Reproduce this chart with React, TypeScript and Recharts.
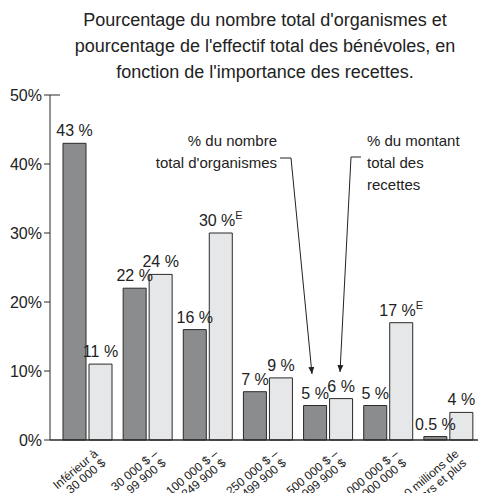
import { BarChart, Bar, XAxis, YAxis, LabelList } from 'recharts';

// Tranches de recettes (two lines each)
const categories = [
  ['Inférieur à', '30 000 $'],
  ['30 000 $ –', '99 900 $'],
  ['100 000 $ –', '249 900 $'],
  ['250 000 $ –', '499 900 $'],
  ['500 000 $ –', '999 900 $'],
  ['1 000 000 $ –', '10 000 000 $'],
  ['10 millions de', 'dollars et plus'],
];
const organismes = [43, 22, 16, 7, 5, 5, 0.5];
const recettes = [11, 24, 30, 9, 6, 17, 4];
const recettesEstimate = [false, false, true, false, false, true, false];
const yTicks = [0, 10, 20, 30, 40, 50];

const titleLines = [
  "Pourcentage du nombre total d'organismes et",
  "pourcentage de l'effectif total des bénévoles, en",
  "fonction de l'importance des recettes.",
];

const FONT = '"Liberation Sans", Arial, sans-serif';
const DARK = '#8b8c8e';
const LIGHT = '#e6e7e8';
const EDGE = '#2a2a2a';

const chartData = categories.map((c, i) => ({
  name: c.join(' '),
  organismes: organismes[i],
  recettes: recettes[i],
}));

const XTick = (props: any) => {
  const { x, y, payload, index } = props;
  const lines = categories[index] || [payload.value, ''];
  return (
    <g transform={`translate(${x + 9},${y + 4})`}>
      <text transform="rotate(-40)" textAnchor="end" fontSize={12} fill="#222" fontFamily={FONT}>
        <tspan x={0} dy={4}>{lines[0]}</tspan>
        <tspan x={0} dy={12}>{lines[1]}</tspan>
      </text>
    </g>
  );
};

const makeLabel = (flags: boolean[] | null) => (props: any) => {
  const { x, y, width, value, index } = props;
  const est = flags ? flags[index] : false;
  return (
    <text
      x={x + width / 2}
      y={y - 7}
      textAnchor="middle"
      fontSize={16}
      fill="#222"
      fontFamily={FONT}
    >
      {`${value} %`}
      {est && (
        <tspan fontSize={11} dy={-7}>E</tspan>
      )}
    </text>
  );
};

export default function App() {
  return (
    <div style={{ position: 'absolute', left: 0, top: 0, width: 480, height: 493, background: '#fff', fontFamily: FONT }}>
      <div
        style={{
          position: 'absolute',
          left: 50,
          top: 7,
          width: 430,
          textAlign: 'center',
          fontSize: 18,
          lineHeight: '26px',
          color: '#222',
        }}
      >
        {titleLines.map((l) => (
          <div key={l}>{l}</div>
        ))}
      </div>
      <BarChart
        width={480}
        height={493}
        data={chartData}
        margin={{ top: 95, right: 2, bottom: 0, left: 10 }}
        barSize={23}
        barGap={3}
      >
        <XAxis
          dataKey="name"
          tick={<XTick />}
          tickLine={false}
          axisLine={{ stroke: EDGE, strokeWidth: 1.5 }}
          padding={{ left: 7, right: 0 }}
          interval={0}
          height={53}
        />
        <YAxis
          width={40}
          domain={[0, 50]}
          ticks={yTicks}
          tickFormatter={(v) => `${v}%`}
          tick={{ fontSize: 16, fill: '#222', fontFamily: FONT }}
          tickLine={{ stroke: EDGE }}
          tickSize={6}
          axisLine={{ stroke: EDGE }}
          interval={0}
        />
        <Bar dataKey="organismes" fill={DARK} stroke={EDGE} strokeWidth={1} isAnimationActive={false}>
          <LabelList dataKey="organismes" content={makeLabel(null)} />
        </Bar>
        <Bar dataKey="recettes" fill={LIGHT} stroke={EDGE} strokeWidth={1} isAnimationActive={false}>
          <LabelList dataKey="recettes" content={makeLabel(recettesEstimate)} />
        </Bar>
      </BarChart>
      <svg
        width={480}
        height={493}
        style={{ position: 'absolute', left: 0, top: 0, pointerEvents: 'none' }}
        fontFamily={FONT}
      >
        <defs>
          <marker id="arr" markerWidth="8" markerHeight="8" refX="7" refY="4" orient="auto" markerUnits="userSpaceOnUse">
            <path d="M0,1 L7,4 L0,7 Z" fill="#222" />
          </marker>
        </defs>
        <line x1={50} y1={95} x2={60} y2={95} stroke={EDGE} />
        <text x={277} y={146} textAnchor="end" fontSize={15} fill="#222">% du nombre</text>
        <text x={277} y={168} textAnchor="end" fontSize={15} fill="#222">total d'organismes</text>
        <polyline points="280,158 291,158 312,374" fill="none" stroke="#222" strokeWidth={1} markerEnd="url(#arr)" />
        <text x={367} y={146} fontSize={15} fill="#222">% du montant</text>
        <text x={367} y={168} fontSize={15} fill="#222">total des</text>
        <text x={367} y={190} fontSize={15} fill="#222">recettes</text>
        <polyline points="361,157 351,157 340,372" fill="none" stroke="#222" strokeWidth={1} markerEnd="url(#arr)" />
      </svg>
    </div>
  );
}
